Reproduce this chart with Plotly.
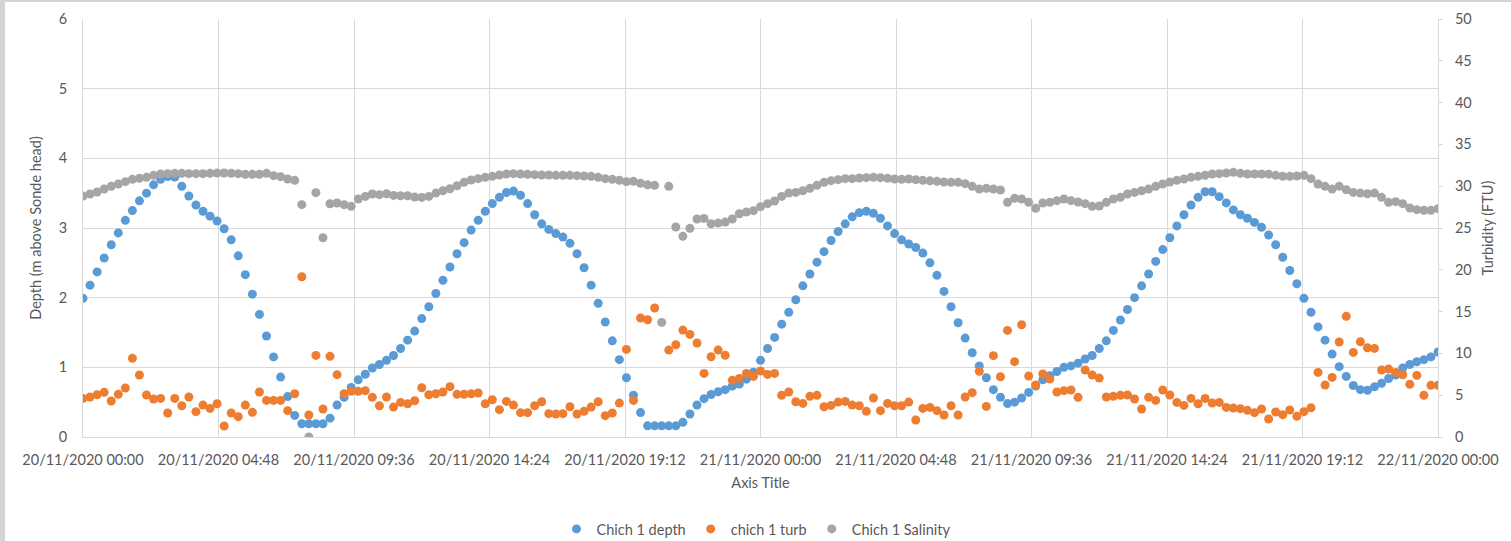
import pandas as pd
import plotly.graph_objects as go

# 15-minute logger readings, 20/11/2020 00:00 to 22/11/2020 00:00
times = pd.date_range("2020-11-20 00:00", periods=193, freq="15min")

depth = [
    1.99, 2.18, 2.37, 2.57, 2.76, 2.93, 3.11, 3.25, 3.39, 3.50, 3.62, 3.70, 3.74, 3.73, 3.60, 3.46, 3.33, 3.24, 3.17, 3.10, 2.99, 2.83, 2.60, 2.33,
    2.05, 1.76, 1.45, 1.15, 0.86, 0.58, 0.31, 0.19, 0.19, 0.19, 0.19, 0.27, 0.46, 0.57, 0.71, 0.82, 0.90, 0.99, 1.04, 1.10, 1.17, 1.27, 1.39, 1.52,
    1.70, 1.87, 2.06, 2.25, 2.44, 2.63, 2.79, 2.97, 3.11, 3.24, 3.35, 3.44, 3.51, 3.53, 3.47, 3.35, 3.19, 3.06, 2.98, 2.92, 2.87, 2.78, 2.63, 2.43,
    2.18, 1.92, 1.65, 1.38, 1.11, 0.85, 0.60, 0.35, 0.16, 0.16, 0.16, 0.16, 0.16, 0.21, 0.33, 0.46, 0.55, 0.61, 0.65, 0.68, 0.73, 0.76, 0.83, 0.93,
    1.10, 1.27, 1.43, 1.62, 1.79, 1.97, 2.17, 2.34, 2.51, 2.66, 2.82, 2.95, 3.06, 3.16, 3.22, 3.24, 3.21, 3.14, 3.03, 2.92, 2.83, 2.77, 2.72, 2.64,
    2.50, 2.32, 2.09, 1.87, 1.64, 1.42, 1.21, 1.02, 0.85, 0.68, 0.57, 0.48, 0.50, 0.56, 0.64, 0.73, 0.82, 0.88, 0.94, 1.00, 1.02, 1.06, 1.12, 1.17,
    1.27, 1.38, 1.53, 1.68, 1.83, 2.00, 2.17, 2.34, 2.52, 2.69, 2.86, 3.03, 3.19, 3.33, 3.44, 3.52, 3.52, 3.45, 3.36, 3.26, 3.19, 3.14, 3.08, 3.01,
    2.90, 2.76, 2.58, 2.39, 2.20, 1.99, 1.79, 1.58, 1.39, 1.19, 1.01, 0.87, 0.74, 0.68, 0.67, 0.72, 0.77, 0.84, 0.89, 0.99, 1.04, 1.08, 1.11, 1.15, 1.22,
]

turb = [
    4.62, 4.78, 5.06, 5.34, 4.30, 5.10, 5.86, 9.41, 7.41, 5.02, 4.54, 4.62, 2.87, 4.62, 3.74, 4.78, 3.03, 3.82, 3.42, 3.98, 1.31, 2.87, 2.43, 3.82,
    2.95, 5.38, 4.38, 4.38, 4.38, 3.15, 5.18, 19.17, 2.63, 9.76, 3.35, 9.65, 7.46, 5.18, 5.46, 5.46, 5.54, 4.74, 3.74, 4.78, 3.58, 4.14, 3.98, 4.34,
    5.89, 5.06, 5.18, 5.38, 6.02, 5.10, 5.10, 5.18, 5.26, 3.98, 4.46, 3.27, 4.26, 3.82, 2.91, 2.91, 3.74, 4.22, 2.79, 2.75, 2.79, 3.62, 2.75, 3.07,
    3.58, 4.22, 2.55, 2.87, 4.06, 10.48, 4.38, 14.23, 14.03, 15.43, None, 10.40, 11.04, 12.79, 12.27, 11.24, 7.61, 9.60, 10.40, 9.77, 6.78, 7.01, 7.61, 7.25,
    7.89, 7.49, 7.61, 4.98, 5.38, 4.22, 4.02, 4.86, 4.98, 3.62, 3.78, 4.18, 4.26, 3.82, 3.74, 3.07, 4.66, 3.15, 4.02, 3.74, 3.74, 4.18, 2.03, 3.42,
    3.54, 3.15, 2.63, 3.74, 2.63, 4.78, 5.30, 7.85, 3.66, 9.73, 7.21, 12.75, 9.01, 13.43, 7.29, 6.22, 7.53, 6.93, 5.38, 5.54, 5.62, 4.74, 8.01, 7.41,
    7.05, 4.78, 4.86, 4.98, 5.02, 4.54, 3.35, 4.74, 4.38, 5.62, 5.02, 4.14, 3.78, 4.62, 3.98, 4.62, 4.06, 4.14, 3.54, 3.46, 3.39, 3.19, 2.91, 3.35,
    2.15, 2.99, 2.67, 3.23, 2.47, 3.03, 3.50, 7.73, 6.22, 7.13, 11.36, 14.43, 10.12, 11.40, 10.68, 10.60, 8.01, 8.13, 7.73, 7.45, 6.30, 7.37, 4.98, 6.18, 6.18,
]

salinity = [
    28.82, 29.07, 29.30, 29.66, 29.98, 30.26, 30.54, 30.82, 30.94, 31.06, 31.30, 31.46, 31.50, 31.54, 31.54, 31.50, 31.50, 31.50, 31.54, 31.58, 31.58, 31.54, 31.50, 31.42,
    31.42, 31.42, 31.54, 31.26, 31.14, 30.86, 30.70, 27.79, 0.00, 29.23, 23.84, 27.90, 27.99, 27.79, 27.59, 28.47, 28.78, 29.07, 28.99, 29.10, 28.90, 28.86, 28.86, 28.70,
    28.66, 28.78, 29.18, 29.46, 29.70, 30.06, 30.46, 30.74, 30.90, 31.06, 31.18, 31.34, 31.46, 31.50, 31.46, 31.42, 31.38, 31.34, 31.34, 31.30, 31.30, 31.30, 31.26, 31.22,
    31.18, 31.06, 30.90, 30.82, 30.70, 30.54, 30.58, 30.34, 30.18, 30.10, 13.71, 29.98, 25.12, 24.00, 24.96, 26.07, 26.15, 25.51, 25.59, 25.71, 26.07, 26.71, 26.91, 27.07,
    27.55, 27.91, 28.23, 28.78, 29.18, 29.26, 29.46, 29.74, 30.10, 30.46, 30.66, 30.78, 30.90, 30.90, 30.98, 31.02, 31.06, 31.02, 30.94, 30.86, 30.82, 30.86, 30.78, 30.70,
    30.64, 30.58, 30.50, 30.46, 30.46, 30.30, 29.98, 29.66, 29.74, 29.66, 29.54, 28.07, 28.55, 28.47, 28.07, 27.35, 27.99, 28.07, 28.27, 28.47, 28.27, 28.11, 27.91, 27.59,
    27.63, 28.07, 28.47, 28.67, 29.07, 29.26, 29.46, 29.66, 29.98, 30.26, 30.50, 30.70, 30.86, 31.06, 31.18, 31.30, 31.46, 31.50, 31.58, 31.66, 31.54, 31.46, 31.46, 31.46,
    31.44, 31.30, 31.18, 31.18, 31.22, 31.30, 30.90, 30.26, 29.98, 29.66, 29.98, 29.58, 29.26, 29.18, 29.10, 29.18, 28.67, 28.07, 28.15, 27.91, 27.39, 27.19, 27.11, 27.11, 27.31,
]

# major ticks every 4 h 48 min
tick_times = pd.date_range("2020-11-20 00:00", "2020-11-22 00:00", freq="288min")
tick_labels = [
    "20/11/2020 00:00", "20/11/2020 04:48", "20/11/2020 09:36", "20/11/2020 14:24",
    "20/11/2020 19:12", "21/11/2020 00:00", "21/11/2020 04:48", "21/11/2020 09:36",
    "21/11/2020 14:24", "21/11/2020 19:12", "22/11/2020 00:00",
]

TEXT = "#595959"
GRID = "#d9d9d9"
FONT = "Lato"

fig = go.Figure()
fig.add_trace(go.Scatter(x=times, y=depth, mode="markers", name="Chich 1 depth",
                         marker=dict(color="#5B9BD5", size=9)))
fig.add_trace(go.Scatter(x=times, y=turb, mode="markers", name="chich 1 turb",
                         marker=dict(color="#ED7D31", size=9), yaxis="y2"))
fig.add_trace(go.Scatter(x=times, y=salinity, mode="markers", name="Chich 1 Salinity",
                         marker=dict(color="#A5A5A5", size=9), yaxis="y2"))

W, H = 1511, 541
L, R, T, B = 83, 73, 19, 104
pw, ph = W - L - R, H - T - B


def px_x(p):
    return (p - L) / pw


def px_y(p):
    return (H - B - p) / ph


fig.update_layout(
    width=W, height=H,
    margin=dict(l=L, r=R, t=T, b=B, autoexpand=False),
    paper_bgcolor="white", plot_bgcolor="white",
    font=dict(family=FONT, size=14.5, color=TEXT),
    showlegend=True,
    legend=dict(orientation="h", x=px_x(756), xanchor="center", y=px_y(529), yanchor="middle",
                font=dict(family=FONT, size=14.5, color=TEXT), itemwidth=30,
                tracegroupgap=0),
    xaxis=dict(
        range=[tick_times[0], tick_times[-1]],
        tickmode="array", tickvals=tick_times, ticktext=tick_labels,
        showgrid=True, gridcolor=GRID, gridwidth=1,
        showline=True, linecolor=GRID, linewidth=1,
        zeroline=False, ticks="", ticklabelstandoff=10, automargin=False,
        tickfont=dict(family=FONT, size=14.5, color=TEXT),
        title=dict(text="Axis Title", standoff=10, font=dict(family=FONT, size=14.5, color=TEXT)),
    ),
    yaxis=dict(
        range=[0, 6], dtick=1, tick0=0,
        showgrid=True, gridcolor=GRID, gridwidth=1,
        showline=True, linecolor=GRID, zeroline=False, ticks="",
        ticklabelstandoff=12, automargin=False,
        tickfont=dict(family=FONT, size=14.5, color=TEXT),
        title=dict(text="Depth (m above Sonde head)", standoff=13,
                   font=dict(family=FONT, size=14.5, color=TEXT)),
    ),
    yaxis2=dict(
        range=[0, 50], dtick=5, tick0=0, overlaying="y", side="right",
        showgrid=False, showline=True, linecolor=GRID, zeroline=False,
        ticks="outside", ticklen=4, tickcolor=GRID,
        ticklabelstandoff=9, automargin=False,
        tickfont=dict(family=FONT, size=14.5, color=TEXT),
        title=dict(text="Turbidity (FTU)", standoff=12,
                   font=dict(family=FONT, size=14.5, color=TEXT)),
    ),
    shapes=[
        dict(type="rect", xref="paper", yref="paper", layer="above",
             x0=px_x(0), x1=px_x(5), y0=px_y(H), y1=px_y(0),
             fillcolor="#d4d4d4", line=dict(width=0)),
        dict(type="rect", xref="paper", yref="paper", layer="above",
             x0=px_x(0), x1=px_x(W), y0=px_y(2), y1=px_y(0),
             fillcolor="#d4d4d4", line=dict(width=0)),
    ],
)

fig.write_html("out.html")
